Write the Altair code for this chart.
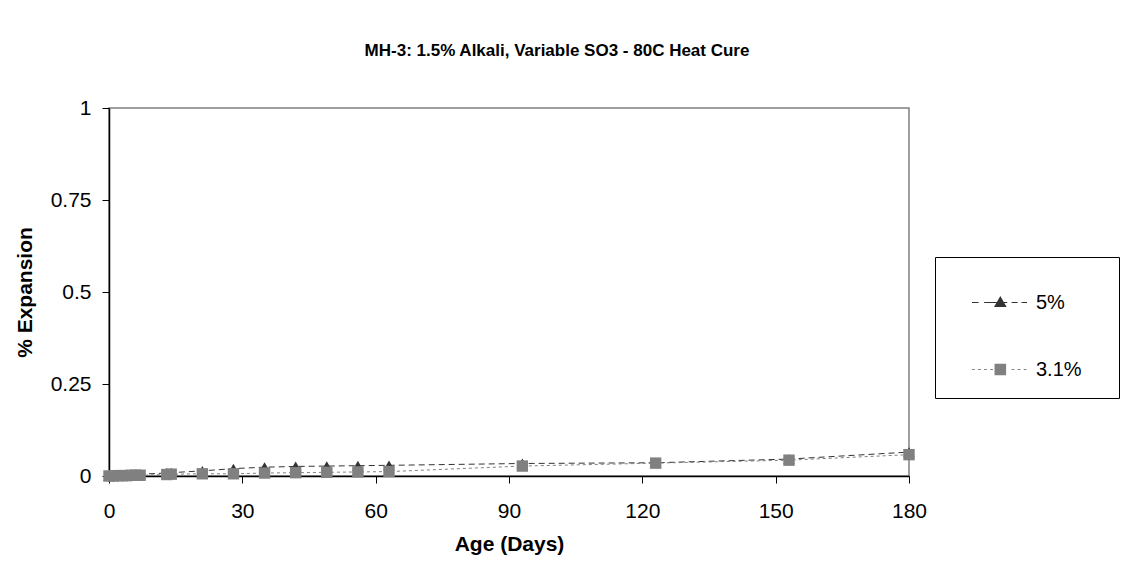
import altair as alt
import pandas as pd

days = [0, 1, 2, 3, 4, 5, 6, 7, 13, 14, 21, 28, 35, 42, 49, 56, 63, 93, 123, 153, 180]
so3_5 = [0.0, 0.001, 0.002, 0.003, 0.003, 0.004, 0.004, 0.005, 0.008, 0.009, 0.014, 0.020,
         0.024, 0.026, 0.027, 0.028, 0.029, 0.034, 0.036, 0.046, 0.065]
so3_31 = [0.0, 0.0, 0.001, 0.001, 0.001, 0.002, 0.002, 0.002, 0.004, 0.005, 0.006, 0.006,
          0.008, 0.009, 0.010, 0.011, 0.012, 0.027, 0.035, 0.043, 0.058]
series = ["5%", "3.1%"]
series_colors = ["#333333", "#808080"]

# legend keys: line-with-marker symbols (dash segments + marker) as custom paths
legend_paths = [
    "M-1,-0.02H-0.76V0.02H-1Z M-0.56,-0.02H0.28V0.02H-0.56Z M0.44,-0.02H0.66V0.02H0.44Z "
    "M0.8,-0.02H1V0.02H0.8Z M0.03,-0.24L0.26,0.16L-0.2,0.16Z",
    "M-1,-0.02H-0.9V0.02H-1Z M-0.78,-0.02H-0.68V0.02H-0.78Z M-0.56,-0.02H-0.46V0.02H-0.56Z "
    "M-0.34,-0.02H-0.24V0.02H-0.34Z M0.44,-0.02H0.54V0.02H0.44Z M0.66,-0.02H0.76V0.02H0.66Z "
    "M0.88,-0.02H0.98V0.02H0.88Z M-0.18,-0.21H0.24V0.21H-0.18Z",
]

rows = []
for d, a, b in zip(days, so3_5, so3_31):
    rows.append({"Age": d, "Expansion": a, "Series": series[0], "order": 1})
    rows.append({"Age": d, "Expansion": b, "Series": series[1], "order": 2})
df = pd.DataFrame(rows)

xenc = alt.X("Age:Q", scale=alt.Scale(domain=[0, 180], nice=False),
             axis=alt.Axis(values=[0, 30, 60, 90, 120, 150, 180], title="Age (Days)",
                           labelFlush=False))
yenc = alt.Y("Expansion:Q", scale=alt.Scale(domain=[0, 1], nice=False),
             axis=alt.Axis(values=[0, 0.25, 0.5, 0.75, 1], title="% Expansion",
                           labelExpr="datum.value == 0 ? '0' : datum.value == 1 ? '1' : format(datum.value, '.2~f')"))

color_nolegend = alt.Color("Series:N", scale=alt.Scale(domain=series, range=series_colors), legend=None)

lines = alt.Chart(df).mark_line(strokeWidth=1).encode(
    x=xenc, y=yenc, color=color_nolegend,
    strokeDash=alt.StrokeDash("Series:N", scale=alt.Scale(domain=series, range=[[6, 4], [3, 3]]), legend=None),
)
points = alt.Chart(df).mark_point(filled=True, size=130, opacity=1, strokeWidth=0).encode(
    x=xenc, y=yenc, color=color_nolegend,
    shape=alt.Shape("Series:N", scale=alt.Scale(domain=series, range=["triangle-up", "square"]), legend=None),
    order=alt.Order("order:Q"),
)
spacer = "\u2002"  # blank legend title on the right, only widens the legend box
legend_layer = alt.Chart(df).transform_filter("false").mark_point(
    filled=True, opacity=1, strokeWidth=0
).encode(
    x=xenc, y=yenc,
    color=alt.Color("Series:N", scale=alt.Scale(domain=series, range=series_colors),
                    legend=alt.Legend(title=spacer, titleOrient="right", titlePadding=19)),
    shape=alt.Shape("Series:N", scale=alt.Scale(domain=series, range=legend_paths),
                    legend=alt.Legend(title=spacer, titleOrient="right", titlePadding=19)),
)

chart = alt.layer(lines, points, legend_layer).resolve_scale(
    color="independent", shape="independent"
).resolve_legend(
    color="independent", shape="independent"
).properties(
    width=800, height=368,
    title=alt.TitleParams("MH-3: 1.5% Alkali, Variable SO3 - 80C Heat Cure",
                          font="Liberation Sans", fontSize=17, fontWeight="bold",
                          anchor="middle", dx=48, offset=37, color="black"),
    autosize=alt.AutoSizeParams(type="none"),
    padding={"left": 109, "top": 108, "right": 213, "bottom": 88},
).configure_view(
    stroke="#808080", strokeWidth=1.5
).configure_axis(
    domainColor="black", domainWidth=1.5, tickColor="black", tickSize=7,
    grid=False, labelFont="Liberation Sans", labelFontSize=21, labelColor="black",
    titleFont="Liberation Sans", titleFontSize=21, titleFontWeight="bold", titleColor="black",
).configure_axisY(
    labelPadding=11, titlePadding=15
).configure_axisX(
    labelPadding=17, titlePadding=12
).configure_legend(
    orient="none", legendX=826, legendY=149,
    strokeColor="black", padding=18, symbolOffset=19,
    labelFont="Liberation Sans", labelFontSize=20, labelColor="black",
    titleFont="Liberation Sans", titleFontSize=20,
    labelOffset=9, rowPadding=29, symbolSize=3025, symbolStrokeWidth=0,
)

chart.save("out.html", embed_options={"renderer": "svg", "actions": False})
